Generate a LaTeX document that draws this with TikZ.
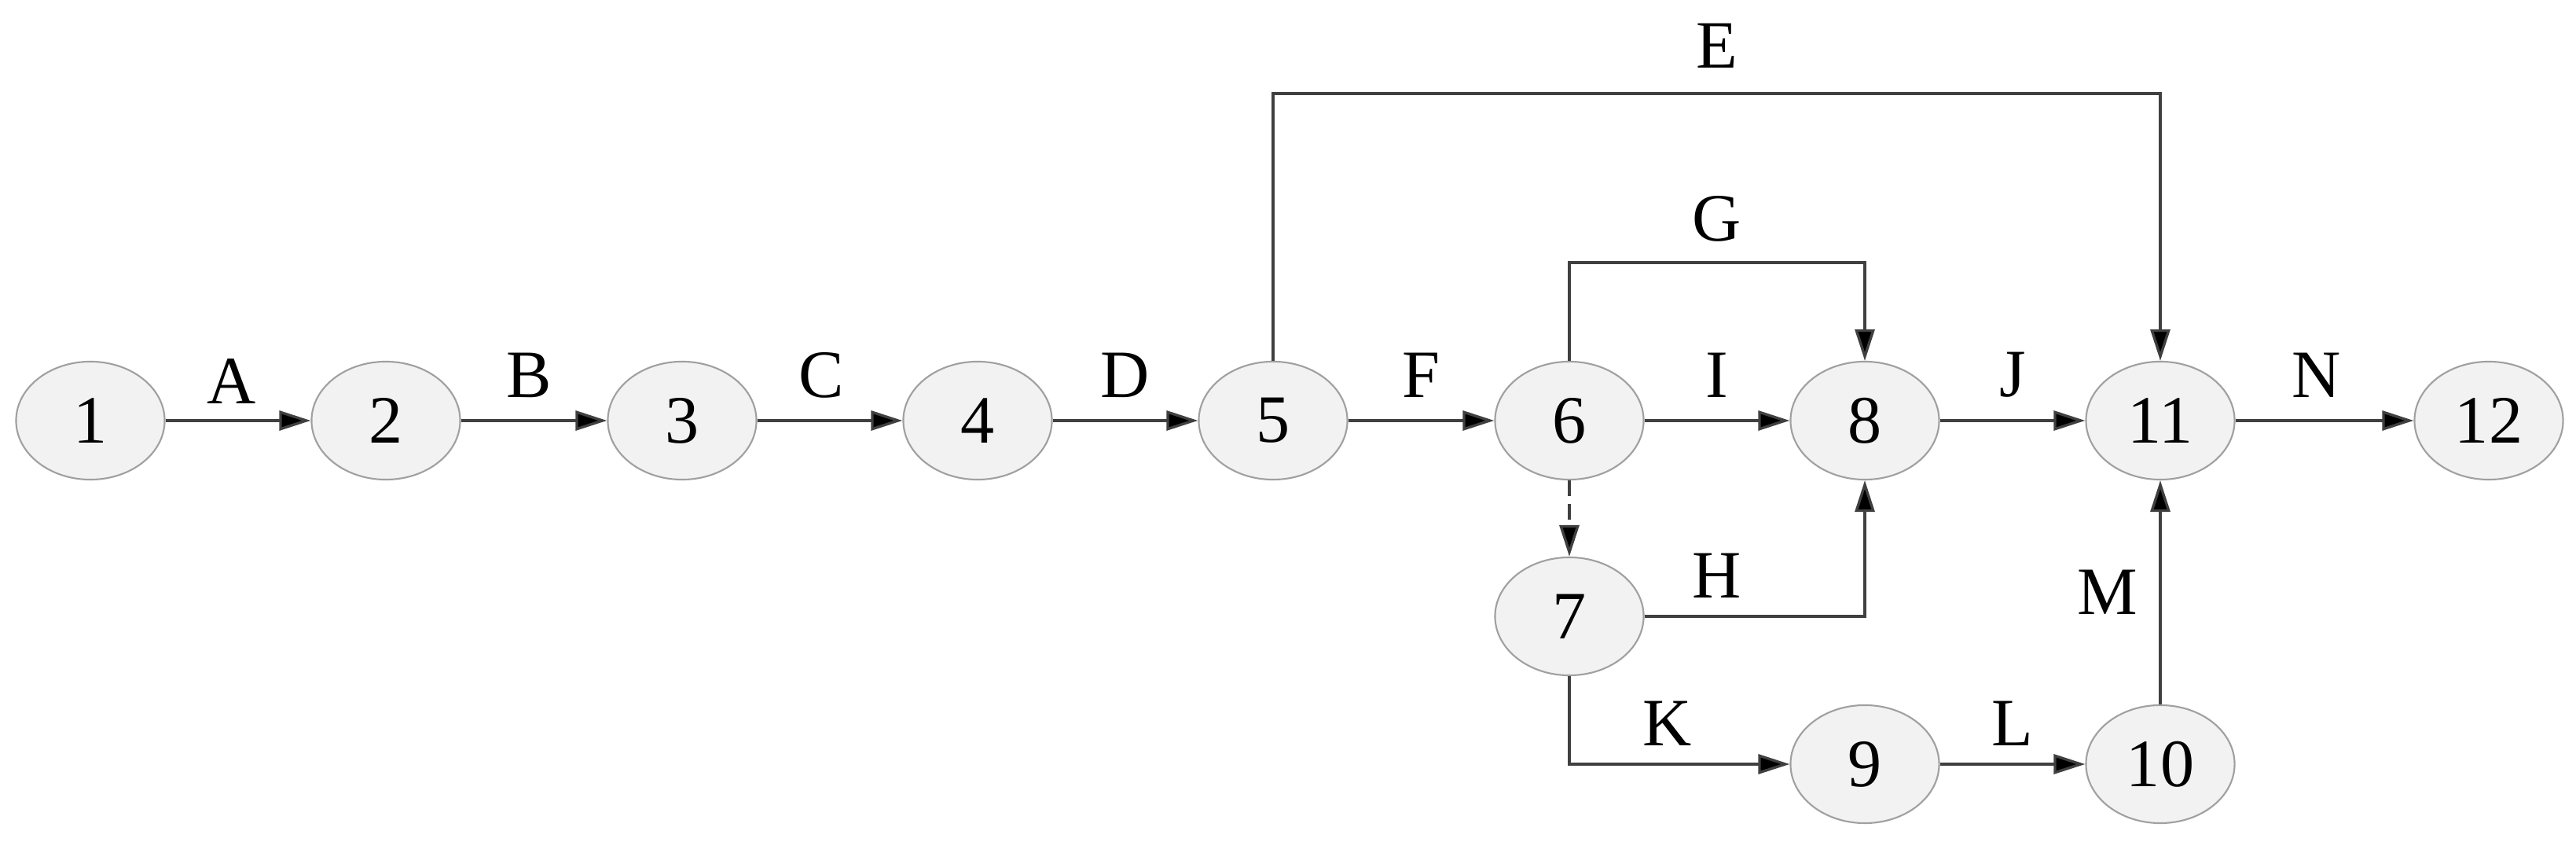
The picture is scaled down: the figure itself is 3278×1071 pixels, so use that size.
\documentclass[tikz,border=0pt]{standalone}
\usepackage{fontspec}
\setmainfont{Liberation Serif}
\usetikzlibrary{shapes.geometric,arrows.meta}
\definecolor{nodefill}{HTML}{F2F2F2}
\definecolor{nodeline}{HTML}{A0A0A0}
\definecolor{edgeline}{HTML}{404040}
\begin{document}
\begin{tikzpicture}[x=0.01cm,y=-0.01cm,
  event/.style={ellipse,draw=nodeline,line width=0.6pt,fill=nodefill,minimum width=1.89cm,minimum height=1.5cm,inner sep=0pt,font=\fontsize{24.5}{29}\selectfont},
  act/.style={draw=edgeline,line width=0.95pt,-{Triangle[length=0.4cm,width=0.25cm,fill=black]}},
  dummy/.style={act,dash pattern=on 0.2cm off 0.1cm},
  lbl/.style={inner sep=0pt,font=\fontsize{24.5}{29}\selectfont}]
\useasboundingbox (0,0) rectangle (3278,1071);
\node[event] (n1) at (115,535) {1};
\node[event] (n2) at (491,535) {2};
\node[event] (n3) at (868,535) {3};
\node[event] (n4) at (1244,535) {4};
\node[event] (n5) at (1620,535) {5};
\node[event] (n6) at (1997,535) {6};
\node[event] (n8) at (2373,535) {8};
\node[event] (n11) at (2749,535) {11};
\node[event] (n12) at (3167,535) {12};
\node[event] (n7) at (1997,784) {7};
\node[event] (n9) at (2373,972) {9};
\node[event] (n10) at (2749,972) {10};
\coordinate (eY) at (0,119);
\coordinate (gY) at (0,334);
\draw[act] (n1) -- (n2);
\draw[act] (n2) -- (n3);
\draw[act] (n3) -- (n4);
\draw[act] (n4) -- (n5);
\draw[act] (n5) -- (n6);
\draw[act] (n6) -- (n8);
\draw[act] (n8) -- (n11);
\draw[act] (n11) -- (n12);
\draw[act] (n5.north) -- (n5.north |- eY) -| (n11.north);
\draw[act] (n6.north) -- (n6.north |- gY) -| (n8.north);
\draw[dummy] (n6.south) -- (n7.north);
\draw[act] (n7.east) -| (n8.south);
\draw[act] (n7.south) |- (n9.west);
\draw[act] (n9) -- (n10);
\draw[act] (n10) -- (n11);
\node[lbl] (lA) at (295,485) {A};
\node[lbl] (lB) at (673,477) {B};
\node[lbl] (lC) at (1045,477) {C};
\node[lbl] (lD) at (1432,477) {D};
\node[lbl] (lE) at (2185,58) {E};
\node[lbl] (lF) at (1808,477) {F};
\node[lbl] (lG) at (2185,278) {G};
\node[lbl] (lH) at (2185,732) {H};
\node[lbl] (lI) at (2185,477) {I};
\node[lbl] (lJ) at (2561,477) {J};
\node[lbl] (lK) at (2122,920) {K};
\node[lbl] (lL) at (2561,920) {L};
\node[lbl] (lM) at (2682,753) {M};
\node[lbl] (lN) at (2948,477) {N};
\end{tikzpicture}
\end{document}
